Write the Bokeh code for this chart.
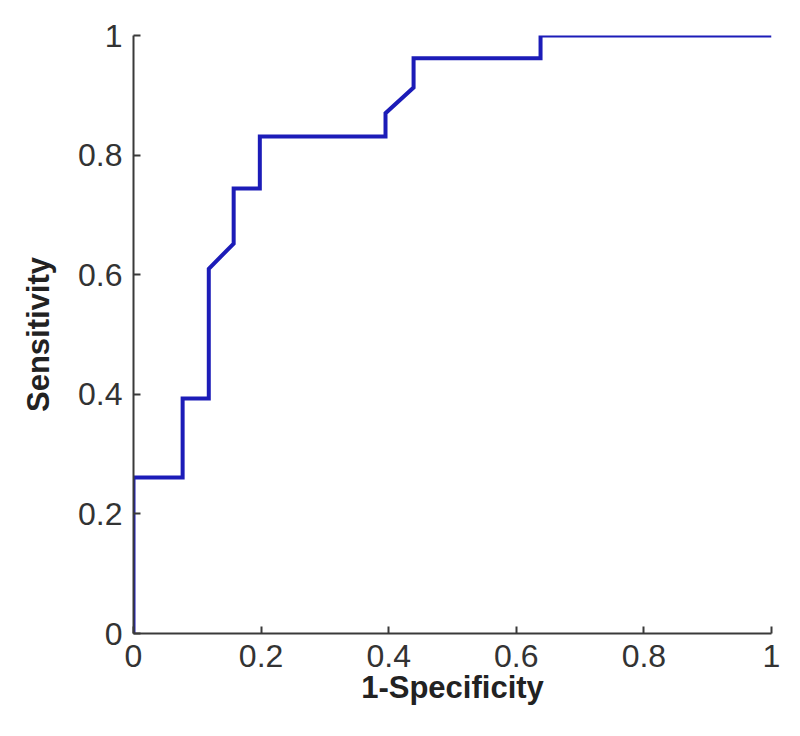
from bokeh.plotting import figure
from bokeh.models import FixedTicker, Range1d
from bokeh.embed import file_html
from bokeh.resources import INLINE

# ROC curve points (1-Specificity, Sensitivity)
fpr = [0.0, 0.0, 0.077, 0.077, 0.118, 0.118, 0.157, 0.157, 0.198, 0.198, 0.395, 0.395, 0.439, 0.439, 0.638, 0.638, 1.0]
tpr = [0.0, 0.261, 0.261, 0.393, 0.393, 0.61, 0.652, 0.744, 0.744, 0.831, 0.831, 0.87, 0.913, 0.962, 0.962, 1.0, 1.0]

tick_values = [0.0, 0.2, 0.4, 0.6, 0.8, 1.0]
tick_labels = ["0", "0.2", "0.4", "0.6", "0.8", "1"]

x_label = "1-Specificity"
y_label = "Sensitivity"

FONT = "Liberation Sans"

p = figure(width=784, height=720, output_backend="svg", toolbar_location=None,
           x_range=Range1d(0, 1), y_range=Range1d(0, 1),
           min_border_left=133, min_border_right=13, min_border_top=35, min_border_bottom=87)

p.line(fpr, tpr, line_color="#1c1cb8", line_width=4, line_join="miter")

p.outline_line_color = None
p.grid.visible = False
p.background_fill_color = "white"
p.border_fill_color = "white"

overrides = {v: s for v, s in zip(tick_values, tick_labels)}
for ax in (p.xaxis[0], p.yaxis[0]):
    ax.ticker = FixedTicker(ticks=tick_values)
    ax.major_label_overrides = overrides
    ax.minor_tick_line_color = None
    ax.major_tick_in = 7
    ax.major_tick_out = 0
    ax.axis_line_color = "#3a3a3a"
    ax.axis_line_width = 2
    ax.major_tick_line_color = "#3a3a3a"
    ax.major_tick_line_width = 2
    ax.major_label_text_font = FONT
    ax.major_label_text_font_size = "32px"
    ax.major_label_text_color = "#333333"
    ax.axis_label_text_font = FONT
    ax.axis_label_text_font_size = "31px"
    ax.axis_label_text_font_style = "bold"
    ax.axis_label_text_color = "#222222"

p.xaxis.axis_label = x_label
p.yaxis.axis_label = y_label
p.xaxis.major_label_standoff = 11
p.yaxis.major_label_standoff = 11
p.xaxis.axis_label_standoff = 0
p.yaxis.axis_label_standoff = 19

open("out.html", "w").write(file_html(p, INLINE))
